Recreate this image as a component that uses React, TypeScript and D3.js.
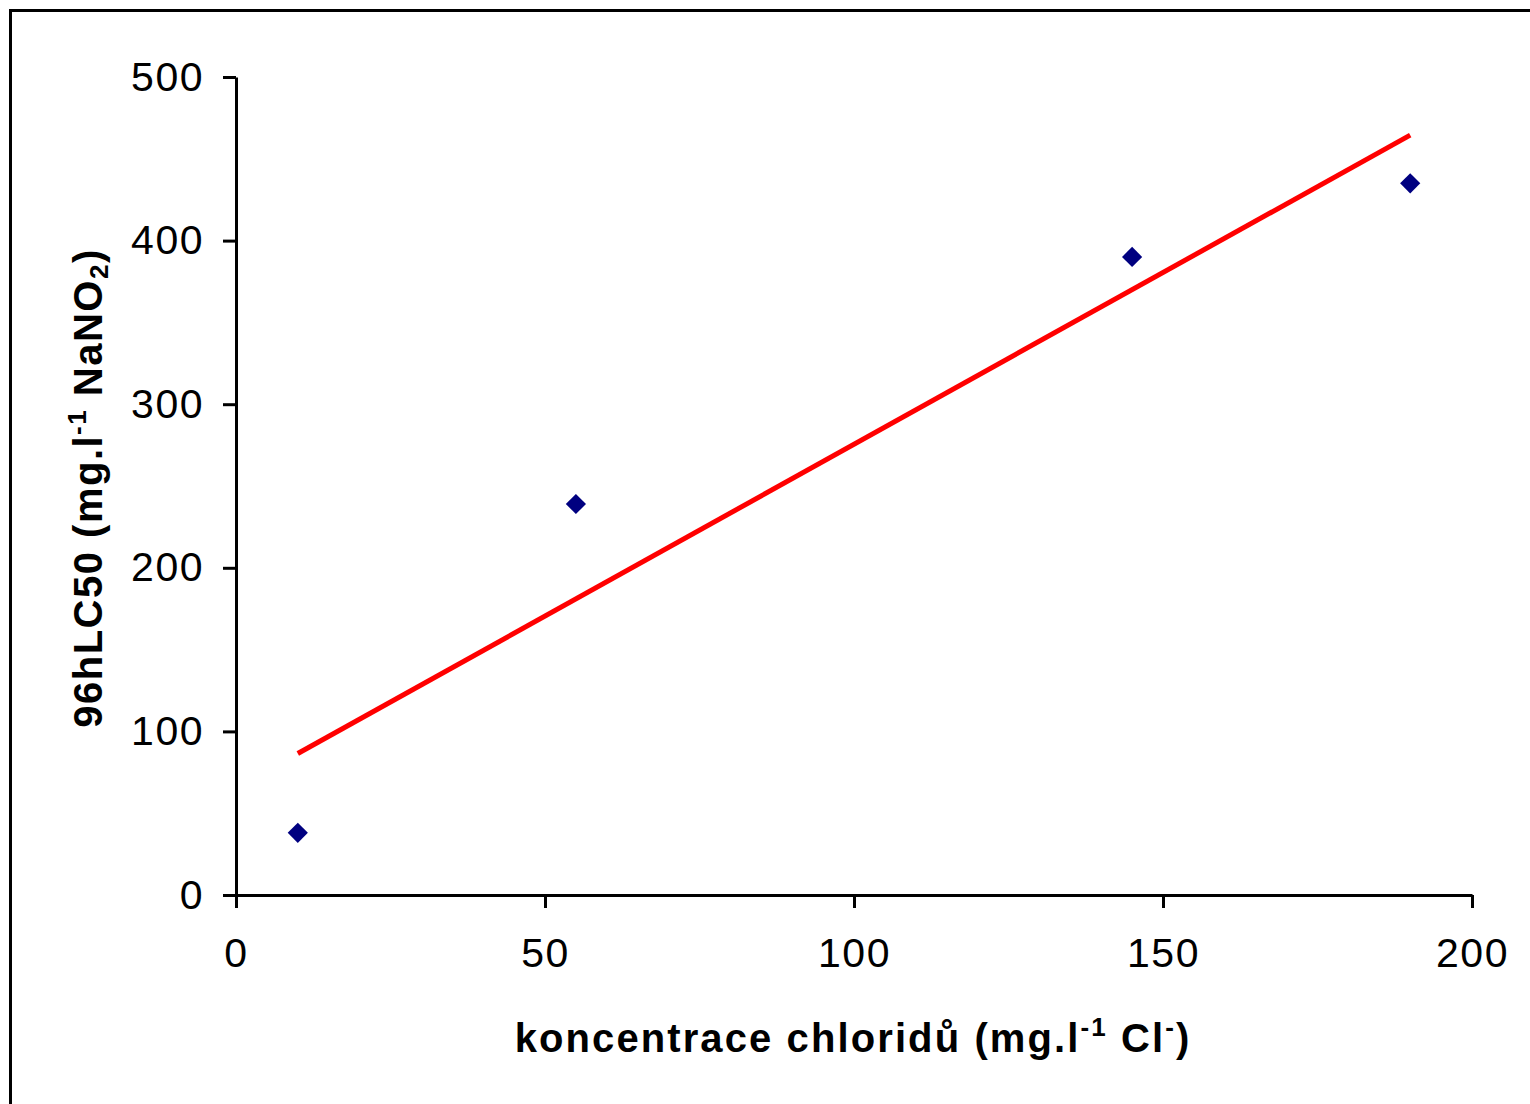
import React, { useEffect, useRef } from 'react'
import * as d3 from 'd3'

// chloride concentration vs 96hLC50
const chlorid = [10, 55, 145, 190]
const lc50 = [38, 239, 390, 435]
const xTicks = [0, 50, 100, 150, 200]
const yTicks = [0, 100, 200, 300, 400, 500]

const W = 1530
const H = 1104

export default function App() {
  const ref = useRef<SVGSVGElement | null>(null)

  useEffect(() => {
    const svg = d3.select(ref.current)
    svg.selectAll('*').remove()

    const x = d3.scaleLinear().domain([0, 200]).range([236, 1472])
    const y = d3.scaleLinear().domain([0, 500]).range([895, 77])

    // outer frame
    svg.append('rect')
      .attr('x', 10.5).attr('y', 10.5)
      .attr('width', W + 20).attr('height', H + 20)
      .attr('fill', 'white')
      .attr('stroke', 'black')
      .attr('stroke-width', 3)

    const font = 'Liberation Sans, Arial, sans-serif'

    const xaxis = d3.axisBottom(x).tickValues(xTicks).tickSize(13).tickPadding(30).tickSizeOuter(0)
    const yaxis = d3.axisLeft(y).tickValues(yTicks).tickSize(13).tickPadding(19).tickSizeOuter(0)

    const gx = svg.append('g')
      .attr('transform', 'translate(0,' + y(0) + ')')
      .call(xaxis)
    const gy = svg.append('g')
      .attr('transform', 'translate(' + x(0) + ',0)')
      .call(yaxis)

    ;[gx, gy].forEach(g => {
      g.selectAll('path, line').attr('stroke', 'black').attr('stroke-width', 3)
      g.selectAll('text')
        .attr('fill', 'black')
        .style('font-family', font)
        .style('font-size', '41px')
        .style('letter-spacing', '1.5px')
    })

    // linear trend line
    const mx = d3.mean(chlorid) as number
    const my = d3.mean(lc50) as number
    const sxy = d3.sum(chlorid, (d, i) => (d - mx) * (lc50[i] - my))
    const sxx = d3.sum(chlorid, d => (d - mx) * (d - mx))
    const slope = sxy / sxx
    const icpt = my - slope * mx
    const ext = d3.extent(chlorid) as [number, number]

    svg.append('path')
      .datum(ext)
      .attr('d', d3.line<number>().x(d => x(d)).y(d => y(icpt + slope * d)))
      .attr('stroke', '#ff0000')
      .attr('stroke-width', 5)
      .attr('fill', 'none')

    const diamond = d3.symbol().type(d3.symbolDiamond2).size(260)
    svg.selectAll('path.pt')
      .data(chlorid)
      .enter()
      .append('path')
      .attr('class', 'pt')
      .attr('d', diamond)
      .attr('transform', (d, i) => 'translate(' + x(d) + ',' + y(lc50[i]) + ')')
      .attr('fill', '#000080')

    // x title
    const tx = svg.append('text')
      .attr('x', 853).attr('y', 1052)
      .attr('text-anchor', 'middle')
      .style('font-family', font)
      .style('font-size', '40px')
      .style('font-weight', 'bold')
      .style('letter-spacing', '2.1px')
    tx.append('tspan').text('koncentrace chloridů (mg.l')
    tx.append('tspan').attr('dy', -16).style('font-size', '26px').text('-1')
    tx.append('tspan').attr('dy', 16).text(' Cl')
    tx.append('tspan').attr('dy', -16).style('font-size', '26px').text('-')
    tx.append('tspan').attr('dy', 16).text(')')

    // y title
    const ty = svg.append('text')
      .attr('transform', 'translate(102,488) rotate(-90)')
      .attr('text-anchor', 'middle')
      .style('font-family', font)
      .style('font-size', '40px')
      .style('font-weight', 'bold')
      .style('letter-spacing', '1.5px')
    ty.append('tspan').text('96hLC50 (mg.l')
    ty.append('tspan').attr('dy', -16).style('font-size', '26px').text('-1')
    ty.append('tspan').attr('dy', 16).text(' NaNO')
    ty.append('tspan').attr('dy', 6).style('font-size', '26px').text('2')
    ty.append('tspan').attr('dy', -6).text(')')
  }, [])

  return (
    <svg ref={ref} width={W} height={H}
      style={{ position: 'absolute', left: 0, top: 0, background: 'white' }} />
  )
}
